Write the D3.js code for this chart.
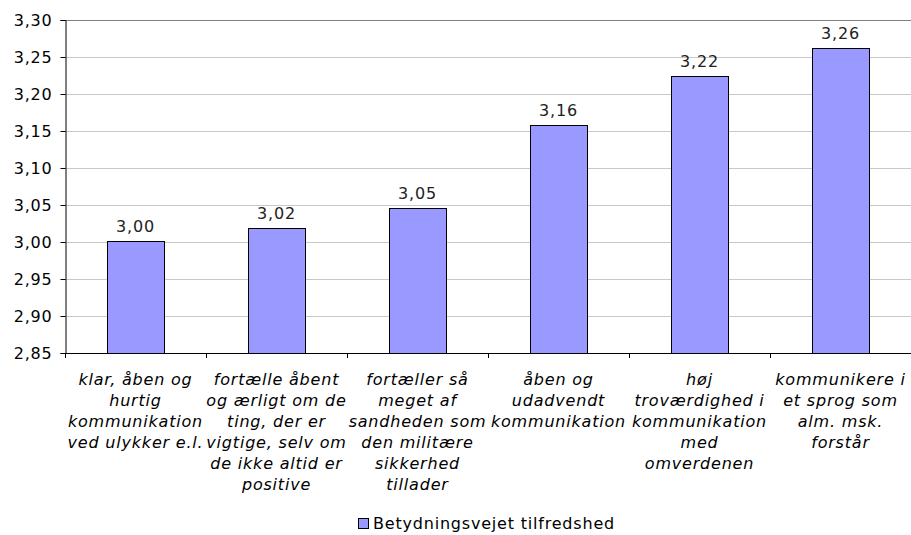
<!DOCTYPE html>
<html>
<head>
<meta charset="utf-8">
<script src="https://cdn.jsdelivr.net/npm/d3@7"></script>
<style>
body{margin:0;background:#fff;}
text{font-family:"DejaVu Sans",Verdana,sans-serif;fill:#000;}
</style>
</head>
<body>
<div id="chart"></div>
<script>
// data
const categories = [
  "klar, åben og\nhurtig\nkommunikation\nved ulykker e.l.",
  "fortælle åbent\nog ærligt om de\nting, der er\nvigtige, selv om\nde ikke altid er\npositive",
  "fortæller så\nmeget af\nsandheden som\nden militære\nsikkerhed\ntillader",
  "åben og\nudadvendt\nkommunikation",
  "høj\ntroværdighed i\nkommunikation\nmed\nomverdenen",
  "kommunikere i\net sprog som\nalm. msk.\nforstår"
];
const values = [3.002, 3.019, 3.046, 3.158, 3.224, 3.262];
const yTicks = [2.85, 2.90, 2.95, 3.00, 3.05, 3.10, 3.15, 3.20, 3.25, 3.30];
const seriesName = "Betydningsvejet tilfredshed";

const W = 911, H = 535;
const margin = {top:20, right:0, bottom:182, left:65};
const gw = W - margin.left - margin.right;
const gh = H - margin.top - margin.bottom;

const fmt = v => d3.format(".2f")(v).replace(".", ",");
const FS = "16px", LS = "0.8px";

const svg = d3.select("#chart").append("svg")
  .attr("width", W).attr("height", H);

const g = svg.append("g")
  .attr("transform", `translate(${margin.left},${margin.top})`);

const x = d3.scaleBand()
  .domain(d3.range(categories.length))
  .range([0, gw])
  .paddingInner(0)
  .paddingOuter(0);

const y = d3.scaleLinear()
  .domain([2.85, 3.30])
  .range([gh, 0]);

// gridlines
g.selectAll(".grid").data(yTicks.slice(1))
  .enter().append("line")
  .attr("x1", 0).attr("x2", gw)
  .attr("y1", d => Math.round(y(d)) + 0.5).attr("y2", d => Math.round(y(d)) + 0.5)
  .attr("stroke", (d, i, n) => i === n.length - 1 ? "#808080" : "#c8c8c8")
  .attr("stroke-width", 1);

// bars
const barW = 57;
g.selectAll("rect.bar").data(values)
  .enter().append("rect")
  .attr("class", "bar")
  .attr("x", (d, i) => Math.round(x(i) + x.bandwidth() / 2 - barW / 2) + 0.5)
  .attr("y", d => Math.round(y(d)) + 0.5)
  .attr("width", barW)
  .attr("height", d => Math.round(y(2.85)) - Math.round(y(d)))
  .attr("fill", "#9999ff")
  .attr("stroke", "#000")
  .attr("stroke-width", 1);

// value labels
g.selectAll("text.val").data(values)
  .enter().append("text")
  .attr("class", "val")
  .attr("x", (d, i) => x(i) + x.bandwidth() / 2)
  .attr("y", d => y(d) - 9)
  .attr("text-anchor", "middle")
  .style("font-size", FS)
  .style("letter-spacing", LS)
  .style("fill", "#222")
  .text(d => fmt(d));

// y axis
const yAxis = d3.axisLeft(y)
  .tickValues(yTicks)
  .tickSize(5)
  .tickPadding(8)
  .tickFormat(fmt);
const yg = g.append("g").attr("transform", "translate(0.5,0)").call(yAxis);
yg.select(".domain").attr("stroke", "#000");
yg.selectAll(".tick line").attr("stroke", "#000");
yg.selectAll(".tick text")
  .style("font-size", FS)
  .style("letter-spacing", LS)
  .style("font-family", "'DejaVu Sans',Verdana,sans-serif")
  .attr("fill", "#000");

// x axis line and band ticks
g.append("line")
  .attr("x1", 0).attr("x2", gw)
  .attr("y1", gh + 0.5).attr("y2", gh + 0.5)
  .attr("stroke", "#000");
g.selectAll(".xtick").data(d3.range(categories.length))
  .enter().append("line")
  .attr("x1", d => Math.round(x(d)) + 0.5).attr("x2", d => Math.round(x(d)) + 0.5)
  .attr("y1", gh).attr("y2", gh + 5)
  .attr("stroke", "#000");

// category labels
const lab = g.selectAll(".cat").data(categories)
  .enter().append("text")
  .attr("class", "cat")
  .attr("text-anchor", "middle")
  .style("font-size", FS)
  .style("font-style", "italic")
  .style("letter-spacing", LS)
  .attr("transform", (d, i) => `translate(${x(i) + x.bandwidth() / 2},${gh + 32})`);
lab.selectAll("tspan").data(d => d.split("\n"))
  .enter().append("tspan")
  .attr("x", 0)
  .attr("dy", (d, i) => i === 0 ? 0 : 21)
  .text(d => d);

// legend
const leg = svg.append("g").attr("transform", "translate(358,518)");
leg.append("rect")
  .attr("x", 0.5).attr("y", 0.5)
  .attr("width", 10).attr("height", 10)
  .attr("fill", "#9999ff").attr("stroke", "#000");
leg.append("text")
  .attr("x", 15).attr("y", 11)
  .style("font-size", FS)
  .style("letter-spacing", LS)
  .text(seriesName);
</script>
</body>
</html>
